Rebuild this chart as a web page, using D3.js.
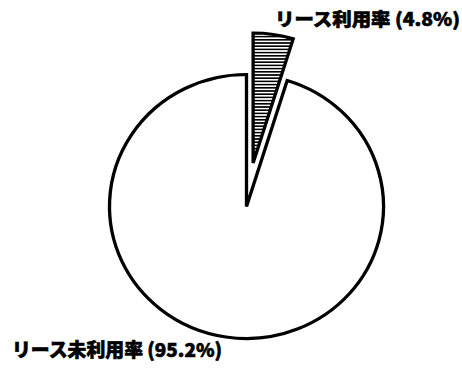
<!DOCTYPE html>
<html>
<head>
<meta charset="utf-8">
<script src="https://cdn.jsdelivr.net/npm/d3@7"></script>
<style>
  body { margin: 0; background: #fff; }
  svg { display: block; }
</style>
</head>
<body>
<div id="chart"></div>
<script>
// data
const categories = ["リース利用率", "リース未利用率"];
const values = [4.8, 95.2];
const labels = ["リース利用率 (4.8%)", "リース未利用率 (95.2%)"];

var width = 462, height = 369;
var cx = 246.5, cy = 206.5;
var ry = 132, rx = 137;   // scan is a little wider than tall
var explode = 44;

var svg = d3.select("#chart")
    .append("svg")
    .attr("width", width)
    .attr("height", height);

// horizontal hatching for the small slice
var pat = svg.append("defs").append("pattern")
    .attr("id", "hatch")
    .attr("patternUnits", "userSpaceOnUse")
    .attr("width", 8)
    .attr("height", 3.2);
pat.append("rect")
    .attr("width", 8).attr("height", 3.2)
    .attr("fill", "#fff");
pat.append("rect")
    .attr("y", 0.8)
    .attr("width", 8).attr("height", 1.6)
    .attr("fill", "#000");

var pie = d3.pie()
    .sort(null)
    .value(function(d) { return d; });

var arcs = pie(values);

var arc = d3.arc()
    .innerRadius(0)
    .outerRadius(ry);

var g = svg.append("g")
    .attr("transform", "translate(" + cx + "," + cy + ") scale(" + (rx / ry) + ",1)");

g.selectAll("path")
    .data(arcs)
    .enter()
    .append("path")
    .attr("d", function(d, i) {
        // the small slice is pulled out and a bit shorter
        return i === 0 ? d3.arc().innerRadius(0).outerRadius(ry - 2)(d) : arc(d);
    })
    .attr("transform", function(d, i) {
        if (i !== 0) return null;
        var a = (d.startAngle + d.endAngle) / 2;
        return "translate(" + (explode * Math.sin(a) / (rx / ry)) + "," + (-explode * Math.cos(a)) + ")";
    })
    .attr("fill", function(d, i) { return i === 0 ? "url(#hatch)" : "#fff"; })
    .attr("stroke", "#000")
    .attr("stroke-width", 3.2)
    .attr("stroke-linejoin", "miter");

// labels (scan is heavy, so thicken the glyphs a little)
var lab = svg.append("g")
    .style("font-family", "'Noto Sans CJK JP', sans-serif")
    .style("font-weight", 900)
    .style("fill", "#000")
    .style("stroke", "#000")
    .style("stroke-width", 0.6);

lab.append("text")
    .attr("x", 275)
    .attr("y", 26)
    .attr("font-size", 18)
    .attr("textLength", 185)
    .attr("lengthAdjust", "spacingAndGlyphs")
    .text(labels[0]);

lab.append("text")
    .attr("x", 12)
    .attr("y", 357)
    .attr("font-size", 19)
    .attr("textLength", 210)
    .attr("lengthAdjust", "spacingAndGlyphs")
    .text(labels[1]);
</script>
</body>
</html>
